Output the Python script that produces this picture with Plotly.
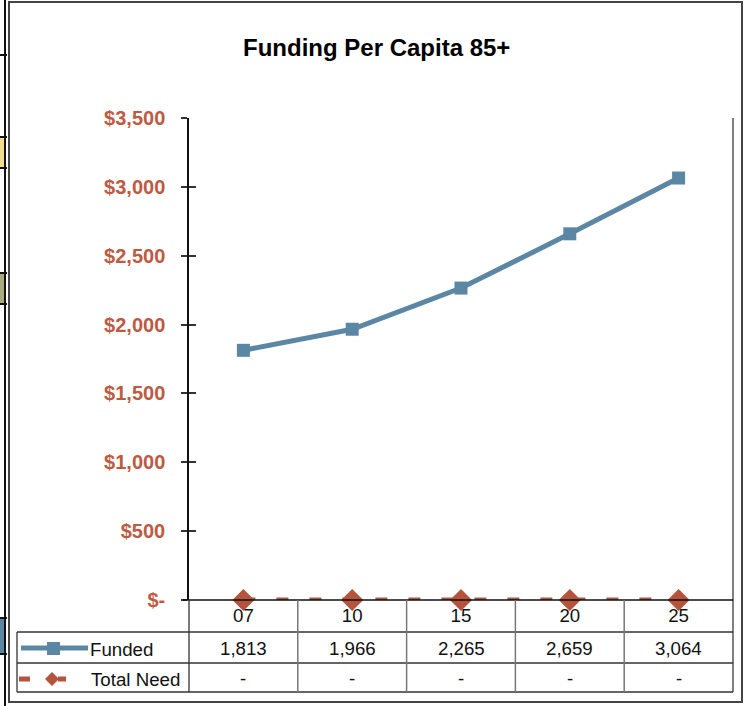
import plotly.graph_objects as go

categories = ["07", "10", "15", "20", "25"]
funded = [1813, 1966, 2265, 2659, 3064]
total_need = [0, 0, 0, 0, 0]
funded_labels = ["1,813", "1,966", "2,265", "2,659", "3,064"]
need_labels = ["-", "-", "-", "-", "-"]
ytick_vals = [0, 500, 1000, 1500, 2000, 2500, 3000, 3500]
ytick_text = ["$-", "$500", "$1,000", "$1,500", "$2,000", "$2,500", "$3,000", "$3,500"]

W, H = 749, 706
BLUE = "#5B87A5"
RED = "#B5533C"
LBL = "#BE5A43"
FONT = "Liberation Sans, Arial, sans-serif"

def px(x):
    return x / W

def py(y):
    return 1 - y / H

x0, x1 = 189, 733
y_top, y_bot = 118, 600

fig = go.Figure()
fig.add_trace(go.Scatter(
    x=categories, y=total_need, mode="lines+markers", name="Total Need",
    line=dict(color=RED, width=5, dash="12px,21px"),
    marker=dict(symbol="diamond", size=17, color=RED),
    cliponaxis=False,
))
fig.add_trace(go.Scatter(
    x=categories, y=funded, mode="lines+markers", name="Funded",
    line=dict(color=BLUE, width=5),
    marker=dict(symbol="square", size=13, color=BLUE),
    cliponaxis=False,
))

shapes = []
ann = []

def line(xa, ya, xb, yb, color="#333333", width=1.3):
    shapes.append(dict(type="line", xref="paper", yref="paper",
                       x0=px(xa), y0=py(ya), x1=px(xb), y1=py(yb),
                       line=dict(color=color, width=width)))

# outer chart border
shapes.append(dict(type="rect", xref="paper", yref="paper",
                   x0=px(9), y0=py(702), x1=px(742), y1=py(2),
                   line=dict(color="#444444", width=2)))
# spreadsheet artifacts at left
line(5, 0, 5, 706, "#111111", 2)
for yy in [55, 137, 168, 273, 304, 618, 654]:
    line(0, yy, 7, yy, "#111111", 2)
shapes.append(dict(type="rect", xref="paper", yref="paper", x0=0, x1=px(4),
                   y0=py(168), y1=py(137), fillcolor="#F0DC8C", line=dict(width=0), layer="below"))
shapes.append(dict(type="rect", xref="paper", yref="paper", x0=0, x1=px(4),
                   y0=py(304), y1=py(273), fillcolor="#A8AC80", line=dict(width=0), layer="below"))
shapes.append(dict(type="rect", xref="paper", yref="paper", x0=0, x1=px(4),
                   y0=py(654), y1=py(618), fillcolor="#5B87A5", line=dict(width=0), layer="below"))

# plot area / data table lines
line(x1, y_top, x1, 692, "#555555", 1.5)
line(183, y_bot, x1, y_bot, "#111111", 1.3)
for yy in [632, 663, 692]:
    line(17, yy, x1, yy, "#333333", 1.3)
line(17, 632, 17, 692, "#333333", 1.3)
line(x0, y_bot, x0, 692, "#333333", 1.3)
for i in range(1, len(categories)):
    shapes.append(dict(type="line", xref="x", yref="paper",
                       x0=i - 0.5, x1=i - 0.5, y0=py(y_bot), y1=py(692),
                       line=dict(color="#777777", width=1.5)))

TXT = dict(size=18.7, color="#111111", family=FONT)
# table values
for i, c in enumerate(categories):
    ann.append(dict(x=i, xref="x", y=py(648), yref="paper", text=funded_labels[i],
                    xanchor="center", yanchor="middle", showarrow=False, font=TXT))
    ann.append(dict(x=i, xref="x", y=py(678), yref="paper", text=need_labels[i],
                    xanchor="center", yanchor="middle", showarrow=False, font=TXT))

# row headers with legend keys
ann.append(dict(x=px(88), y=py(649), xref="paper", yref="paper", text="Funded",
                xanchor="left", yanchor="middle", showarrow=False, font=TXT))
ann.append(dict(x=px(89), y=py(679), xref="paper", yref="paper", text="Total Need",
                xanchor="left", yanchor="middle", showarrow=False, font=TXT))
line(21, 648, 88, 648, BLUE, 5)
shapes.append(dict(type="rect", xref="paper", yref="paper", x0=px(47), x1=px(60),
                   y0=py(655), y1=py(642), fillcolor=BLUE, line=dict(width=0)))
line(19, 679, 30, 679, RED, 5)
line(58, 679, 66, 679, RED, 5)
shapes.append(dict(type="path", xref="paper", yref="paper",
                   path=f"M {px(45)},{py(679)} L {px(52)},{py(672)} L {px(59)},{py(679)} L {px(52)},{py(686)} Z",
                   fillcolor=RED, line=dict(width=0)))

# title
ann.append(dict(x=px(376), y=py(47), xref="paper", yref="paper",
                text="<b>Funding Per Capita 85+</b>", showarrow=False,
                xanchor="center", yanchor="middle",
                font=dict(size=24, color="#000000", family=FONT)))

fig.update_layout(
    width=W, height=H, autosize=False,
    margin=dict(l=0, r=0, t=0, b=0, autoexpand=False),
    paper_bgcolor="white", plot_bgcolor="white",
    showlegend=False,
    font=dict(family=FONT),
    shapes=shapes, annotations=ann,
    xaxis=dict(domain=[px(x0), px(x1)], type="category", range=[-0.5, 4.5],
               showgrid=False, zeroline=False, showline=False, ticks="",
               automargin=False, ticklabelstandoff=2,
               tickfont=dict(size=18.7, color="#111111", family=FONT)),
    yaxis=dict(domain=[py(y_bot), py(y_top)], range=[0, 3500],
               tickvals=ytick_vals, ticktext=ytick_text, automargin=False,
               showgrid=False, zeroline=False, showline=True, linecolor="#111111", linewidth=1.5,
               ticks="outside", ticklen=6, tickcolor="#333333", tickwidth=1.5,
               ticklabelstandoff=12,
               tickfont=dict(size=20, color=LBL, family=FONT, weight="bold")),
    yaxis2=dict(domain=[py(y_bot), py(y_top)], range=[0, 3500], overlaying="y",
                anchor="x", side="left", tickvals=ytick_vals, showticklabels=False,
                showgrid=False, zeroline=False, showline=False, automargin=False,
                ticks="inside", ticklen=7, tickcolor="#333333", tickwidth=1.5),
)
# invisible helper trace so the overlay axis (inner tick halves) is drawn
fig.add_trace(go.Scatter(x=[categories[0]], y=[0], yaxis="y2", mode="markers",
                         marker=dict(opacity=0), hoverinfo="skip"))

fig.write_html("out.html", config={"displayModeBar": False},
               post_script="document.body.style.margin='0px';document.body.style.overflow='hidden';")
